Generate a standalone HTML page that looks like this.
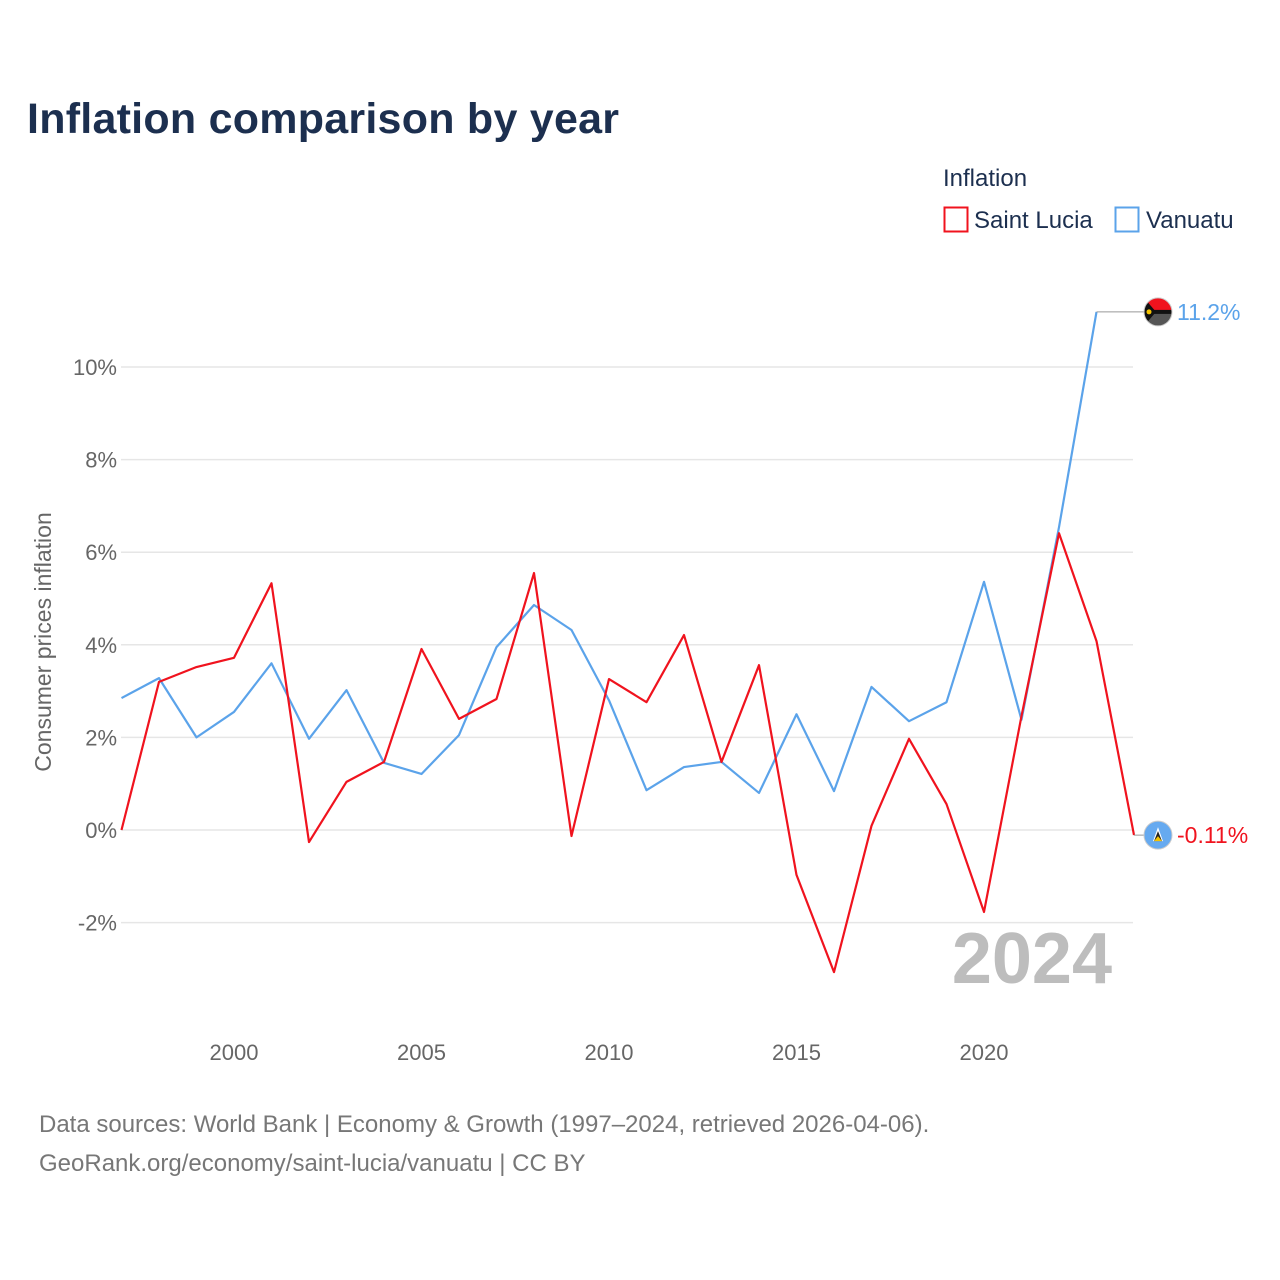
<!DOCTYPE html>
<html><head><meta charset="utf-8"><style>
body{margin:0;background:#fff;font-family:"Liberation Sans",sans-serif;}
#wrap{position:relative;width:1280px;height:1280px;overflow:hidden;}
</style></head><body>
<div id="wrap">
<svg id="chart" width="1280" height="1280" style="font-family:'Liberation Sans',sans-serif">
<defs><clipPath id="c1"><circle cx="1158" cy="312" r="14"/></clipPath><clipPath id="c2"><circle cx="1158" cy="835" r="14"/></clipPath></defs>
<text x="27" y="133" font-size="43" font-weight="bold" fill="#1c2f4f" textLength="592">Inflation comparison by year</text>
<text x="943" y="186" font-size="24" fill="#1c2f4f">Inflation</text>
<g><rect x="944.5" y="207.5" width="23" height="24" fill="none" stroke="#f0131e" stroke-width="2"/><text x="974" y="228" font-size="24" fill="#1c2f4f">Saint Lucia</text></g>
<g><rect x="1115.5" y="207.5" width="23" height="24" fill="none" stroke="#5ba3ea" stroke-width="2"/><text x="1146" y="228" font-size="24" fill="#1c2f4f">Vanuatu</text></g>
<text transform="translate(51,642) rotate(-90)" text-anchor="middle" font-size="23" fill="#666">Consumer prices inflation</text>
<g id="grid"></g><g id="xt"></g>
<text x="1112" y="983" text-anchor="end" font-size="72" font-weight="bold" fill="#bdbdbd">2024</text>
<g id="series"></g>
<text x="39" y="1132" font-size="24" fill="#777">Data sources: World Bank | Economy &amp; Growth (1997–2024, retrieved 2026-04-06).</text>
<text x="39" y="1171" font-size="24" fill="#777">GeoRank.org/economy/saint-lucia/vanuatu | CC BY</text>
</svg></div>
<script>
const years=[1997,1998,1999,2000,2001,2002,2003,2004,2005,2006,2007,2008,2009,2010,2011,2012,2013,2014,2015,2016,2017,2018,2019,2020,2021,2022,2023,2024];
const saintLucia=[0.0,3.2,3.52,3.72,5.33,-0.26,1.04,1.47,3.91,2.4,2.83,5.55,-0.13,3.26,2.76,4.21,1.47,3.56,-0.97,-3.07,0.09,1.97,0.56,-1.77,2.46,6.41,4.08,-0.11];
const vanuatu=[2.85,3.28,2.0,2.55,3.6,1.97,3.02,1.45,1.21,2.05,3.95,4.86,4.32,2.8,0.86,1.36,1.47,0.8,2.5,0.84,3.09,2.35,2.76,5.36,2.38,6.54,11.19,null];
const yTicks=[-2,0,2,4,6,8,10];
const xTicks=[2000,2005,2010,2015,2020];
const NS="http://www.w3.org/2000/svg";
const X=y=>234+(y-2000)*37.5;
const Y=v=>830-v*46.3;
function mk(t,a,p){const e=document.createElementNS(NS,t);for(const k in a)e.setAttribute(k,a[k]);p.appendChild(e);return e;}
const grid=document.getElementById('grid');
yTicks.forEach(v=>{
 const l=mk('line',{x1:121,x2:1133,y1:Y(v),y2:Y(v),stroke:'#e6e6e6','stroke-width':1.5},grid);
 
 
 const t=mk('text',{x:117,y:Y(v)+8,'text-anchor':'end','font-size':22,fill:'#666'},grid);
 t.textContent=v+'%';
 
 
});
const xt=document.getElementById('xt');
xTicks.forEach(v=>{
 const t=mk('text',{x:X(v),y:1060,'text-anchor':'middle','font-size':22,fill:'#666'},xt);
 t.textContent=v;
 
 
});
const S=document.getElementById('series');
function draw(vals,color,name,flag){
 let pts=[],last=null;
 vals.forEach((v,i)=>{if(v!==null){pts.push(X(years[i])+','+Y(v));last=[X(years[i]),Y(v),v];}});
 const p=mk('polyline',{points:pts.join(' '),fill:'none',stroke:color,'stroke-width':2.2,'stroke-linejoin':'round'},S);
 
 
 const c=mk('line',{x1:last[0],y1:last[1],x2:1158,y2:last[1],stroke:'#999','stroke-width':1},S);
 
 
 const g=mk('g',{},S);
 
 
 const cy=last[1];
 if(flag==='vu'){
  mk('g',{'clip-path':'url(#c1)'},g).innerHTML=
   `<rect x="1144" y="${cy-14}" width="28" height="14" fill="#f0131e"/><rect x="1144" y="${cy}" width="28" height="14" fill="#555"/><rect x="1144" y="${cy-2}" width="28" height="4" fill="#111"/><polygon points="1144,${cy-14} 1156,${cy} 1144,${cy+14}" fill="#111"/><circle cx="1149" cy="${cy}" r="2.5" fill="#f5c400"/>`;
 } else {
  mk('g',{'clip-path':'url(#c2)'},g).innerHTML=
   `<rect x="1144" y="${cy-14}" width="28" height="28" fill="#66aaf0"/><polygon points="1158,${cy-8} 1163,${cy+6} 1153,${cy+6}" fill="#fff"/><polygon points="1158,${cy-4} 1162,${cy+6} 1154,${cy+6}" fill="#222"/><polygon points="1158,${cy+1} 1162,${cy+6} 1154,${cy+6}" fill="#f5c400"/>`;
 }
 mk('circle',{cx:1158,cy:cy,r:14,fill:'none',stroke:'#ccc','stroke-width':1},g);
 const t=mk('text',{x:1177,y:cy+8,'font-size':23,fill:color},S);
 t.textContent=(Math.abs(last[2])<1?last[2].toFixed(2):last[2].toFixed(1))+'%';
 
 
}
draw(vanuatu,'#5ba3ea','vanuatu','vu');
draw(saintLucia,'#f0131e','saint-lucia','lc');
</script>
</body></html>
